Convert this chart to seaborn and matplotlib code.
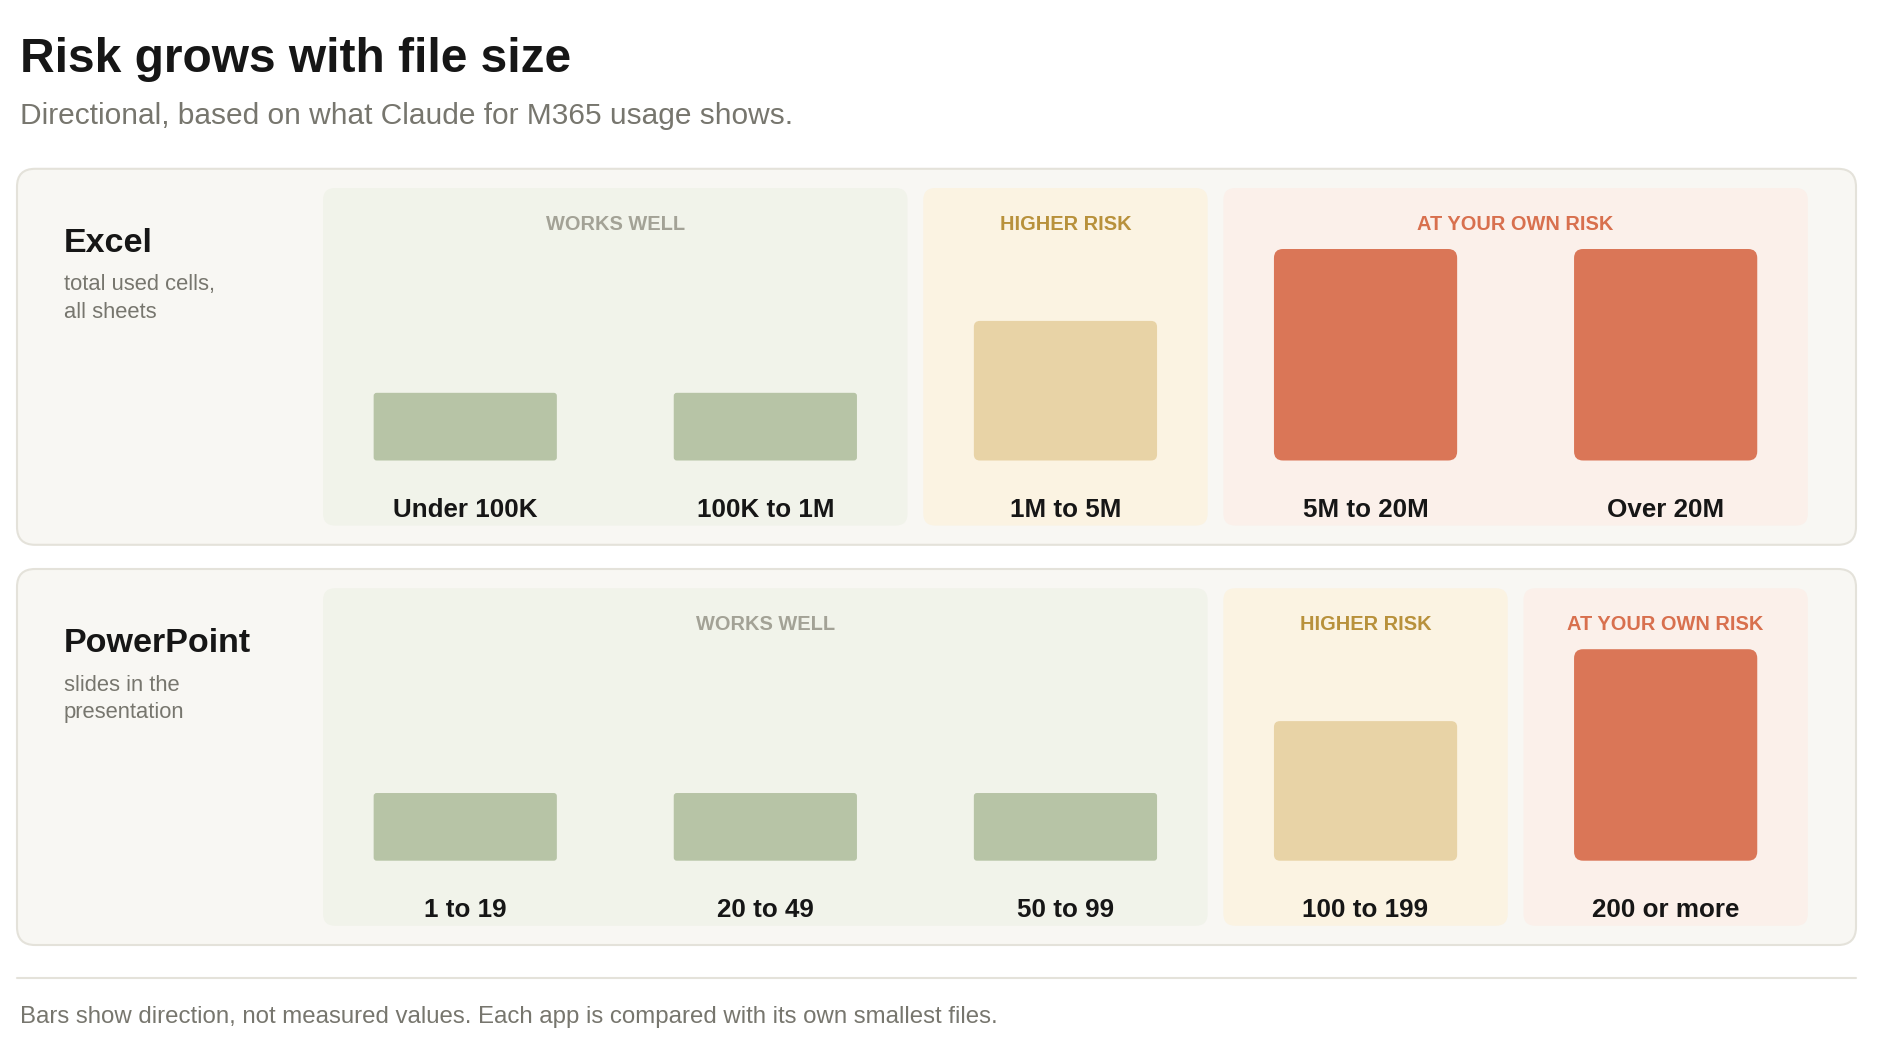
import numpy as np
import pandas as pd
import matplotlib
matplotlib.use("Agg")
import matplotlib.pyplot as plt
import matplotlib.transforms as mtransforms
from matplotlib.patches import FancyBboxPatch
import seaborn as sns

# ---------------- data ----------------
apps = ["Excel", "PowerPoint"]
app_notes = ["total used cells,\nall sheets", "slides in the\npresentation"]

excel_labels = ["Under 100K", "100K to 1M", "1M to 5M", "5M to 20M", "Over 20M"]
excel_risk = ["works", "works", "higher", "own", "own"]
excel_values = [32, 32, 66, 100, 100]

ppt_labels = ["1 to 19", "20 to 49", "50 to 99", "100 to 199", "200 or more"]
ppt_risk = ["works", "works", "works", "higher", "own"]
ppt_values = [32, 32, 32, 66, 100]

risk_order = ["works", "higher", "own"]
risk_titles = {"works": "WORKS WELL", "higher": "HIGHER RISK", "own": "AT YOUR OWN RISK"}

title = "Risk grows with file size"
subtitle = "Directional, based on what Claude for M365 usage shows."
footer = "Bars show direction, not measured values. Each app is compared with its own smallest files."

# ---------------- style ----------------
bar_colors = {"works": "#b7c4a6", "higher": "#e8d3a6", "own": "#da7657"}
bar_radius_px = {"works": 3, "higher": 6, "own": 9}
zone_colors = {"works": "#f1f3ea", "higher": "#fbf3e2", "own": "#fbf0ea"}
head_colors = {"works": "#a3a296", "higher": "#b8913b", "own": "#d8704e"}
panel_fc = "#f8f7f3"
panel_ec = "#e4e2da"
dark = "#161616"
gray = "#77766e"

sns.set_theme(style="white")
plt.rcParams["font.family"] = ["Liberation Sans", "DejaVu Sans"]

W, H = 1890, 1062
fig = plt.figure(figsize=(18.9, 10.62), dpi=100)
fig.patch.set_facecolor("white")
bg = fig.add_axes([0, 0, 1, 1])
bg.set_xlim(0, W)
bg.set_ylim(H, 0)
bg.axis("off")


def rbox(x0, y0, x1, y1, r, fc, ec="none", lw=0, z=0):
    p = FancyBboxPatch((x0, y0), x1 - x0, y1 - y0,
                       boxstyle=f"round,pad=0,rounding_size={r}",
                       fc=fc, ec=ec, lw=lw, zorder=z)
    bg.add_patch(p)


# title
bg.text(20, 59.5, title, fontsize=34.5, fontweight="bold", color=dark, va="center", ha="left")
bg.text(20, 116.5, subtitle, fontsize=21.55, color=gray, va="center", ha="left")

col_w = 300.1
ax_left = 315.2
gap = 15.7
bar_px = 183.2
plot_h = 211.5

panels = [(excel_labels, excel_risk, excel_values), (ppt_labels, ppt_risk, ppt_values)]
tops = [168.8, 569.0]
panel_h = 376
panel_x0, panel_x1 = 17, 1856

for pi, ((labels, risks, values), top) in enumerate(zip(panels, tops)):
    rbox(panel_x0, top, panel_x1, top + panel_h, 18, panel_fc, panel_ec, 1.5, z=0)
    bg.text(64, top + 74.2, apps[pi], fontsize=24.5, fontweight="bold", color=dark, va="center")
    bg.text(64, top + 129.7, app_notes[pi], fontsize=15.8, color=gray, va="center", linespacing=1.38)

    # zones
    i = 0
    while i < len(risks):
        j = i
        while j + 1 < len(risks) and risks[j + 1] == risks[i]:
            j += 1
        x0 = ax_left + i * col_w + gap / 2
        x1 = ax_left + (j + 1) * col_w - gap / 2
        rbox(x0, top + 19.2, x1, top + 356.8, 12, zone_colors[risks[i]], z=1)
        bg.text((x0 + x1) / 2, top + 55.7, risk_titles[risks[i]], fontsize=14.4, fontweight="bold",
                color=head_colors[risks[i]], ha="center", va="center", zorder=3)
        i = j + 1

    base = top + 291.7
    ax = fig.add_axes([ax_left / W, 1 - base / H, 5 * col_w / W, plot_h / H])
    ax.patch.set_alpha(0)
    df = pd.DataFrame({"label": labels, "risk": risks, "value": values})
    sns.barplot(data=df, x="label", y="value", hue="risk", hue_order=risk_order,
                palette=bar_colors, width=bar_px / col_w, dodge=False, legend=False,
                ax=ax, saturation=1)
    ax.set_xlim(-0.5, 4.5)
    ax.set_ylim(0, 100)
    ax.axis("off")

    aspect = (100 / plot_h) / (1 / col_w)
    for p in list(ax.patches):
        if p.get_height() <= 0:
            p.remove()
            continue
        x, y = p.get_x(), p.get_y()
        w, h = p.get_width(), p.get_height()
        k = int(round(x + w / 2))
        r = bar_radius_px[risks[k]] / col_w
        fc = p.get_facecolor()
        p.set_visible(False)
        rp = FancyBboxPatch((x, y), w, h, boxstyle=f"round,pad=0,rounding_size={r}",
                            mutation_aspect=aspect, fc=fc, ec="none", zorder=3)
        ax.add_patch(rp)

    trans = mtransforms.blended_transform_factory(ax.transData, bg.transData)
    for k, lab in enumerate(labels):
        ax.text(k, top + 341, lab, transform=trans, fontsize=18.7, fontweight="bold",
                color=dark, ha="center", va="center", clip_on=False)

# footer
bg.plot([panel_x0, panel_x1], [977.6, 977.6], color=panel_ec, lw=1.5)
bg.text(20, 1017, footer, fontsize=17.3, color=gray, va="center", ha="left")

fig.savefig("out.png", dpi=100, facecolor="white")
